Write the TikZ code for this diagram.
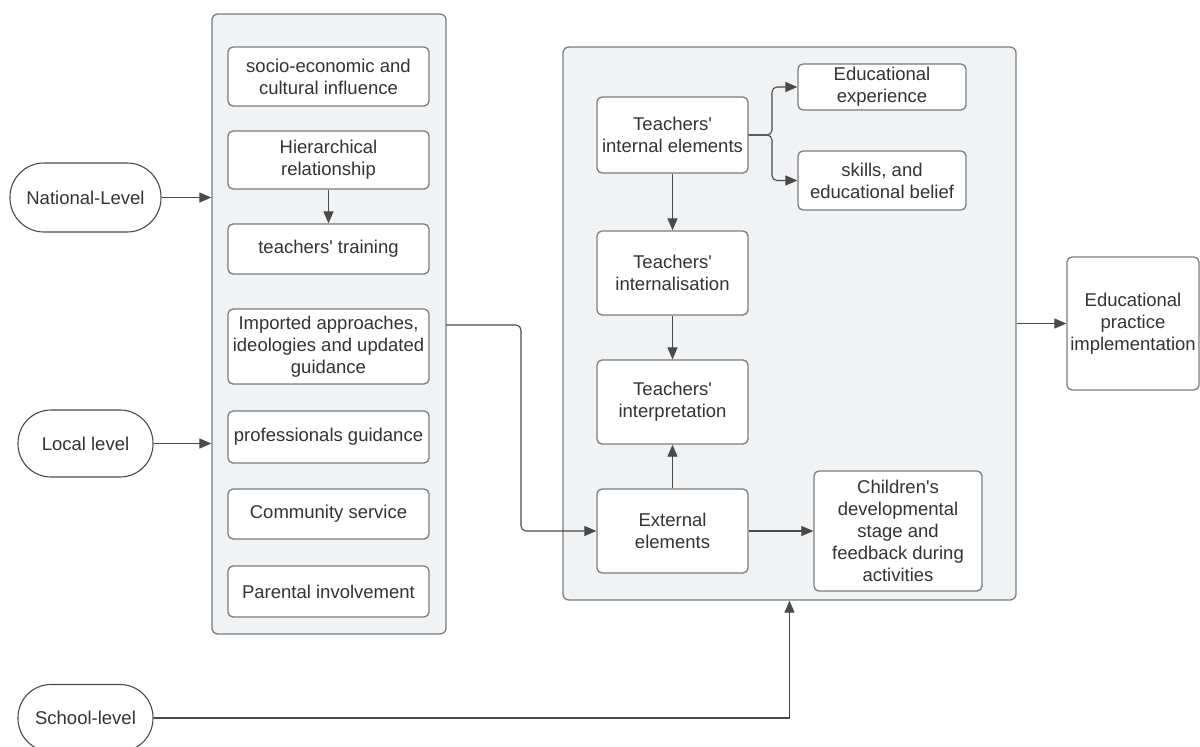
\documentclass[tikz,border=0pt]{standalone}
\usepackage{fontspec}
\setmainfont{Liberation Sans}
\usetikzlibrary{arrows.meta}
\definecolor{txt}{HTML}{333333}
\definecolor{edge}{HTML}{7C7C7C}
\definecolor{wire}{HTML}{4A4A4A}
\definecolor{panel}{HTML}{F1F2F4}
\newcommand{\apos}{\textquotesingle}
\begin{document}
\begin{tikzpicture}[x=1pt,y=-1pt,
  font=\fontsize{18.5}{22}\selectfont, text=txt,
  panelbox/.style={draw=edge, line width=1.3pt, fill=panel, rounded corners=6pt, inner sep=0pt},
  itembox/.style={draw=edge, line width=1.3pt, fill=white, rounded corners=5pt, align=center, inner sep=2pt},
  pill/.style={draw=wire, line width=1.1pt, fill=white, inner sep=0pt},
  link/.style={draw=wire, line width=1.1pt, -{Triangle[length=12pt,width=10pt]}}]
\useasboundingbox (0,0) rectangle (1200,747);

% outer panels
\node[panelbox, minimum width=234pt, minimum height=620pt] (L) at (329,324) {};
\node[panelbox, minimum width=453pt, minimum height=553pt] (R) at (789.5,323.5) {};

% influences grouped on the left
\node[itembox, minimum width=201pt, minimum height=59pt] (socio) at (328.5,76.5) {socio-economic and\\cultural influence};
\node[itembox, minimum width=201pt, minimum height=58pt] (hier) at (328.5,160) {Hierarchical\\relationship};
\node[itembox, minimum width=201pt, minimum height=50pt] (train) at (328.5,249) {teachers\apos{} training};
\node[itembox, minimum width=201pt, minimum height=75pt] (imp) at (328.5,346.5) {Imported approaches,\\ideologies and updated\\guidance};
\node[itembox, minimum width=201pt, minimum height=52pt] (prof) at (328.5,437) {professionals guidance};
\node[itembox, minimum width=201pt, minimum height=50pt] (comm) at (328.5,514) {Community service};
\node[itembox, minimum width=201pt, minimum height=51pt] (par) at (328.5,591.5) {Parental involvement};

% teacher-side elements
\node[itembox, minimum width=151pt, minimum height=76pt] (intern) at (672.5,135) {Teachers\apos\\internal elements};
\node[itembox, minimum width=168pt, minimum height=46pt] (exper) at (882,87) {Educational\\experience};
\node[itembox, minimum width=168pt, minimum height=59pt] (skills) at (882,180.5) {skills, and\\educational belief};
\node[itembox, minimum width=151pt, minimum height=84pt] (intlz) at (672.5,273) {Teachers\apos\\internalisation};
\node[itembox, minimum width=151pt, minimum height=84pt] (interp) at (672.5,402) {Teachers\apos\\interpretation};
\node[itembox, minimum width=151pt, minimum height=84pt] (extern) at (672.5,531) {External\\elements};
\node[itembox, minimum width=168pt, minimum height=120pt] (child) at (898,531) {Children\apos{}s\\developmental\\stage and\\feedback during\\activities};

% outcome
\node[itembox, minimum width=132pt, minimum height=133pt] (practice) at (1133,323.5) {Educational\\practice\\implementation};

% levels
\node[pill, rounded corners=34pt, minimum width=151pt, minimum height=69pt] (national) at (85.5,197.5) {National-Level};
\node[pill, rounded corners=33pt, minimum width=135pt, minimum height=67pt] (local) at (85.5,443.5) {Local level};
\node[pill, rounded corners=33pt, minimum width=135pt, minimum height=67pt] (school) at (85.5,718) {School-level};

% connectors
\draw[link] (national.east) -- (national.east -| L.west);
\draw[link] (local.east) -- (local.east -| L.west);
\draw[link] (hier.south) -- (train.north);
\coordinate (impout) at (446,325);
\draw[link, rounded corners=5pt] (impout) -- (521,325) |- (extern.west);
\draw[link] (school.east) -| (R.south);
\draw[link] (intern.south) -- (intlz.north);
\draw[link] (intlz.south) -- (interp.north);
\draw[link] (extern.north) -- (interp.south);
\draw[link] (extern.east) -- (child.west);
\draw[link, rounded corners=5pt] (intern.east) -- (772,135) |- (exper.west);
\draw[link, rounded corners=5pt] (intern.east) -- (772,135) |- (skills.west);
\draw[link] (R.east |- practice.west) -- (practice.west);
\end{tikzpicture}
\end{document}
